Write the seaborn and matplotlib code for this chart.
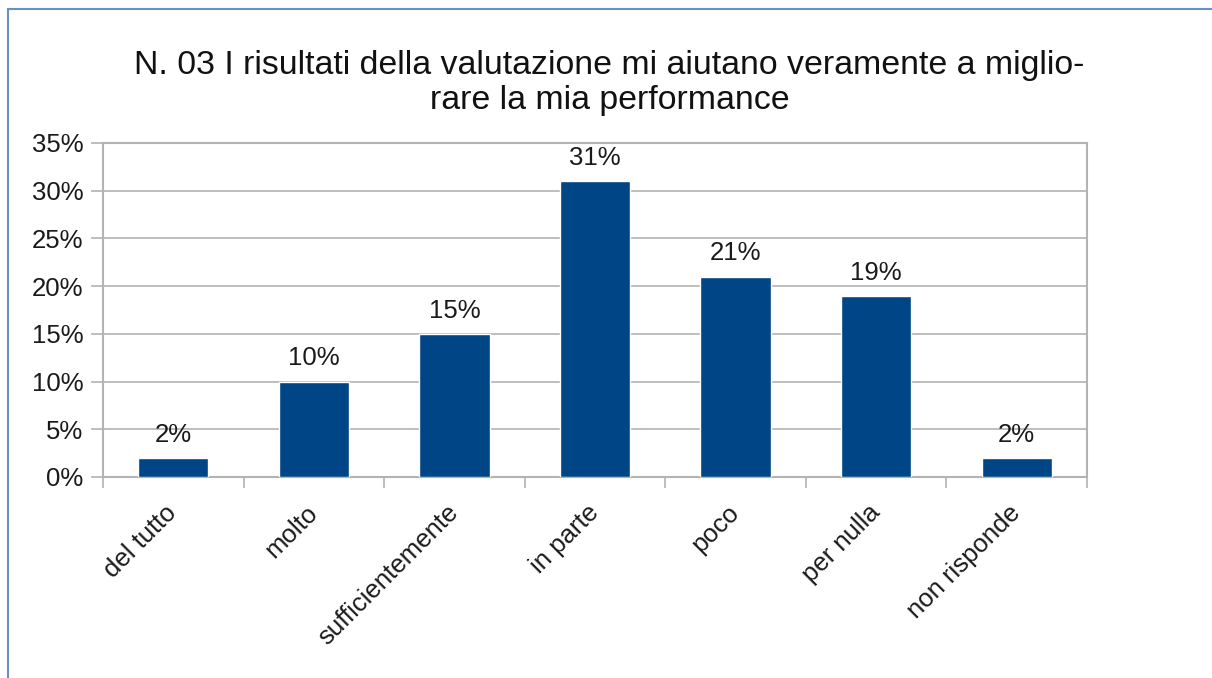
import matplotlib
matplotlib.use("Agg")
import matplotlib.pyplot as plt
from matplotlib.patches import Rectangle
from matplotlib.ticker import FuncFormatter, FixedLocator
import seaborn as sns
import pandas as pd

categories = ["del tutto", "molto", "sufficientemente", "in parte", "poco", "per nulla", "non risponde"]
values = [2, 10, 15, 31, 21, 19, 2]
y_ticks = [0, 5, 10, 15, 20, 25, 30, 35]
title = "N. 03 I risultati della valutazione mi aiutano veramente a miglio-\nrare la mia performance"

sns.set_theme(style="white")
plt.rcParams["font.family"] = ["Liberation Sans", "DejaVu Sans"]

df = pd.DataFrame({"categoria": categories, "valore": values})

fig = plt.figure(figsize=(12.12, 6.78), dpi=100)
fig.patch.set_facecolor("white")
ax = fig.add_axes([103 / 1212, 1 - 477 / 678, (1087 - 103) / 1212, (477 - 143) / 678])

sns.barplot(data=df, x="categoria", y="valore", color="#004586", width=0.5,
            saturation=1, ax=ax, zorder=3)

grid_c = "#b3b3b3"
text_c = "#1a1a1a"
ax.set_ylim(0, 35)
ax.set_xlim(-0.5, len(categories) - 0.5)
ax.yaxis.set_major_locator(FixedLocator(y_ticks))
ax.yaxis.set_major_formatter(FuncFormatter(lambda v, p: f"{v:.0f}%"))
ax.grid(axis="y", color=grid_c, linewidth=1.2, zorder=0)
ax.set_axisbelow(True)
for s in ax.spines.values():
    s.set_color(grid_c)
    s.set_linewidth(1.5)

ax.tick_params(axis="y", which="major", length=8.5, width=1.2, color=grid_c,
               labelsize=18.5, labelcolor=text_c, pad=5.5, left=True)
ax.set_xticks(range(len(categories)))
ax.set_xticks([i - 0.5 for i in range(len(categories) + 1)], minor=True)
ax.set_xticklabels(categories, rotation=45, ha="right", va="center", rotation_mode="anchor")
ax.tick_params(axis="x", which="major", length=0, labelsize=18.5, labelcolor=text_c, pad=23)
ax.tick_params(axis="x", which="minor", length=8, width=1.2, color=grid_c, bottom=True)
ax.set_xlabel("")
ax.set_ylabel("")

for cont in ax.containers:
    ax.bar_label(cont, labels=[f"{v}%" for v in values], padding=8,
                 fontsize=18.5, color=text_c)

fig.text(0.503, 1 - 83 / 678, title, ha="center", va="center", fontsize=24.4,
         color="#111111", linespacing=1.2)

# outer frame of the chart area
fig.patches.append(Rectangle((8 / 1212, -0.1), 1.2, 1 - 9 / 678 + 0.1,
                             transform=fig.transFigure, fill=False,
                             edgecolor="#6a8fc4", linewidth=1.5))

fig.savefig("out.png", dpi=100, facecolor="white")
